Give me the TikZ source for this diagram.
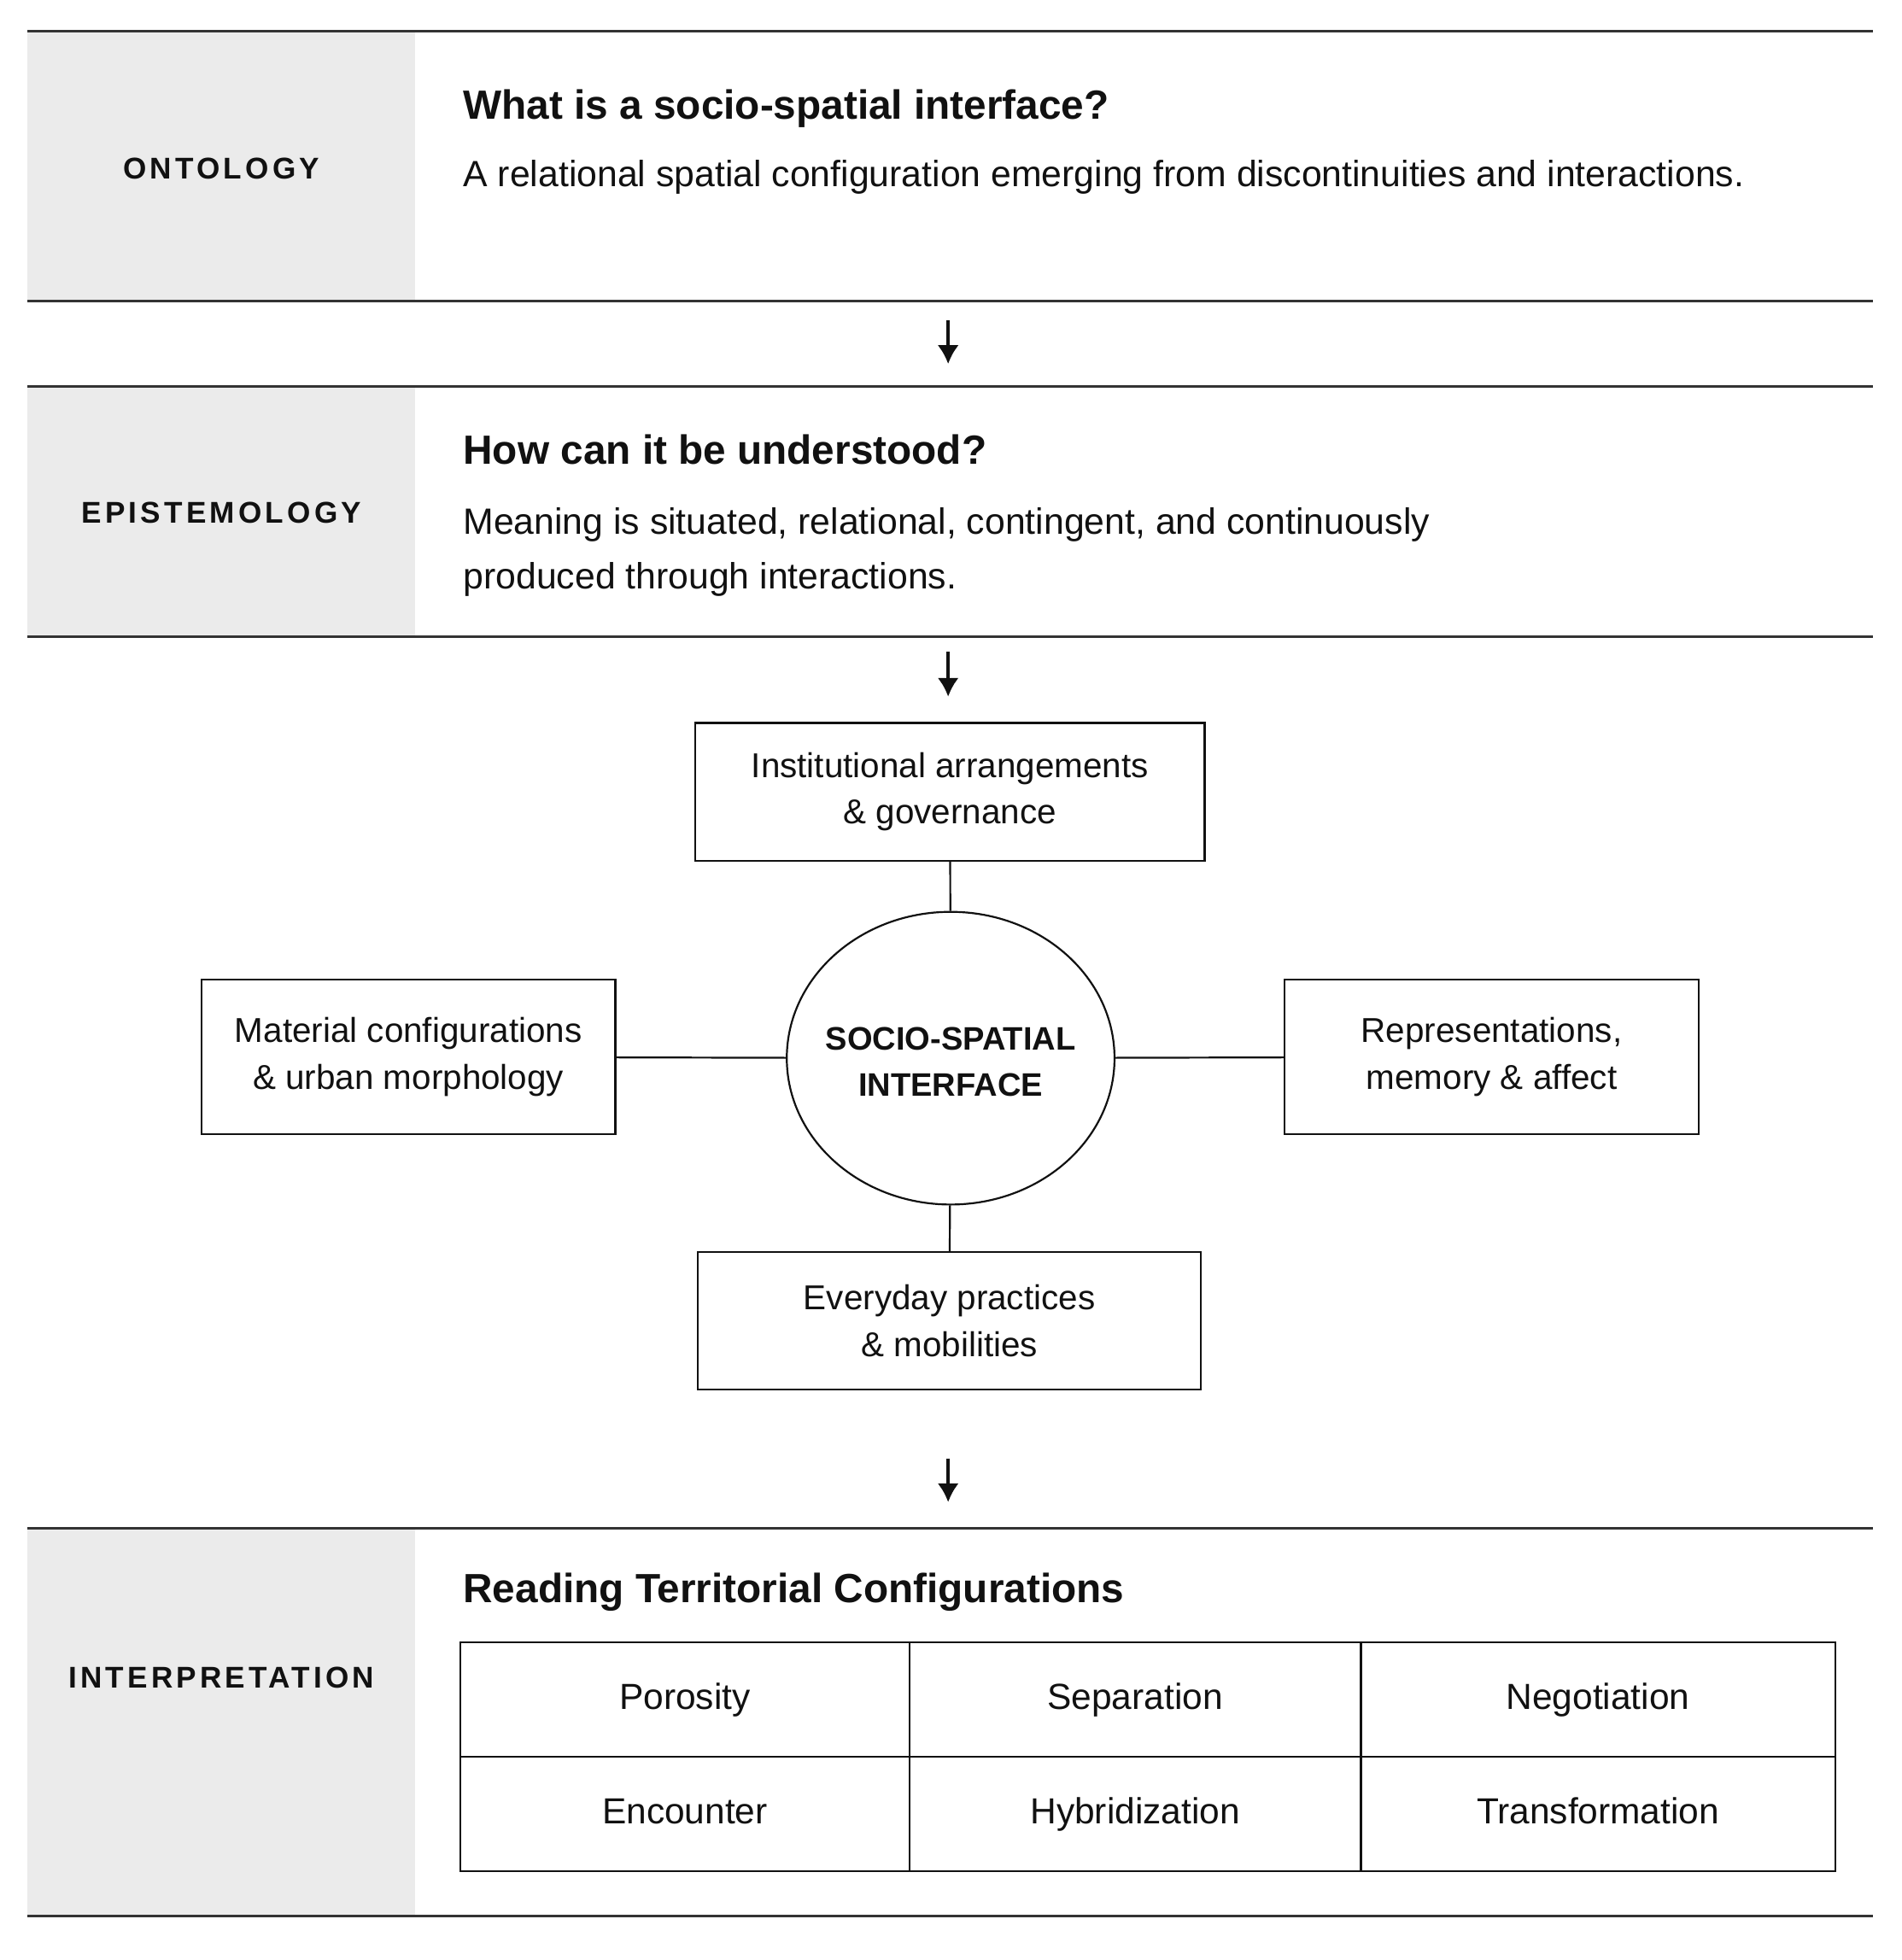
\documentclass[tikz,border=0pt]{standalone}
\usepackage{fontspec}
\setmainfont{Liberation Sans}
\newfontfamily\tagfont[LetterSpace=12]{Liberation Sans}
\usetikzlibrary{arrows.meta}
\usetikzlibrary{shapes.geometric}
\definecolor{bandgray}{HTML}{EBEBEB}
\definecolor{rulegray}{HTML}{333333}
\definecolor{ink}{HTML}{111111}

\begin{document}
\begin{tikzpicture}[x=0.5pt,y=-0.5pt,
            band label/.style={font=\tagfont\fontsize{12pt}{14pt}\selectfont\bfseries,text=ink},
            question/.style={anchor=base west,inner sep=0pt,text=ink,font=\fontsize{16.3pt}{19pt}\selectfont\bfseries},
            answer/.style={anchor=base west,inner sep=0pt,text=ink,font=\fontsize{14.6pt}{17pt}\selectfont},
            facet/.style={draw=ink,line width=0.75pt,align=center,text=ink,font=\fontsize{13.8pt}{18.5pt}\selectfont},
            core/.style={ellipse,draw=ink,line width=0.75pt,inner sep=0pt,minimum width=131pt,minimum height=117pt},
            core text/.style={align=center,text=ink,font=\fontsize{13pt}{18.5pt}\selectfont\bfseries},
            cell/.style={draw=ink,line width=0.7pt,minimum height=45.75pt,text height=0.8em,text depth=0em,text=ink,font=\fontsize{14.5pt}{17pt}\selectfont},
            rule/.style={rulegray,line width=1pt},
            step arrow/.style={ink,line width=1.3pt,-{Latex[length=7.5pt,width=8.5pt]}},
            link/.style={ink,line width=0.75pt}
            ]
            \useasboundingbox (0,0) rectangle (1520,1567);

            \fill[bandgray] (22,25) rectangle (332,241);
            \fill[bandgray] (22,309) rectangle (332,509);
            \fill[bandgray] (22,1222) rectangle (332,1532);
            \foreach \y in {25,241,309,509,1222,1532}
                \draw[rule] (22,\y) -- (1497,\y);

            \node[band label] (ont) at (177,135) {ONTOLOGY};
            \node[question] (ont q) at (370,95) {What is a socio-spatial interface?};
            \node[answer] (ont a) at (370,149) {A relational spatial configuration emerging from discontinuities and interactions.};

            \node[band label] (epi) at (177,410) {EPISTEMOLOGY};
            \node[question] (epi q) at (370,371) {How can it be understood?};
            \node[answer] (epi a1) at (370,427) {Meaning is situated, relational, contingent, and continuously};
            \node[answer] (epi a2) at (370,471) {produced through interactions.};

            \coordinate (a1 top) at (758,256);
            \coordinate (a1 end) at (758,291);
            \coordinate (a2 top) at (758,521);
            \coordinate (a2 end) at (758,557);
            \coordinate (a3 top) at (758,1166);
            \coordinate (a3 end) at (758,1201);
            \draw[step arrow] (a1 top) -- (a1 end);
            \draw[step arrow] (a2 top) -- (a2 end);
            \draw[step arrow] (a3 top) -- (a3 end);

            \node[core] (ssi) at (760,846) {};
            \node[core text, yshift=-1.5pt] (ssi text) at (ssi.center) {SOCIO-SPATIAL\\INTERFACE};
            \node[facet, minimum width=203.5pt, minimum height=55pt] (inst) at (759.5,633) {Institutional arrangements\\\& governance};
            \node[facet, minimum width=165.5pt, minimum height=62pt] (mat) at (326.5,845) {Material configurations\\\& urban morphology};
            \node[facet, minimum width=165.5pt, minimum height=62pt] (rep) at (1192.5,845) {Representations,\\memory \& affect};
            \node[facet, minimum width=201pt, minimum height=55pt] (every) at (759,1056) {Everyday practices\\\& mobilities};
            \draw[link] (inst) -- (ssi);
            \draw[link] (mat) -- (ssi);
            \draw[link] (rep) -- (ssi);
            \draw[link] (every) -- (ssi);

            \node[band label] (int) at (177,1341) {INTERPRETATION};
            \node[question] (int q) at (370,1281) {Reading Territorial Configurations};
            \node[cell, minimum width=179.5pt] (porosity) at (547.5,1358.5) {Porosity};
            \node[cell, minimum width=180.5pt] (separation) at (907.5,1358.5) {Separation};
            \node[cell, minimum width=189.5pt] (negotiation) at (1277.5,1358.5) {Negotiation};
            \node[cell, minimum width=179.5pt] (encounter) at (547.5,1450) {Encounter};
            \node[cell, minimum width=180.5pt] (hybrid) at (907.5,1450) {Hybridization};
            \node[cell, minimum width=189.5pt] (transform) at (1277.5,1450) {Transformation};
        \end{tikzpicture}
\end{document}
